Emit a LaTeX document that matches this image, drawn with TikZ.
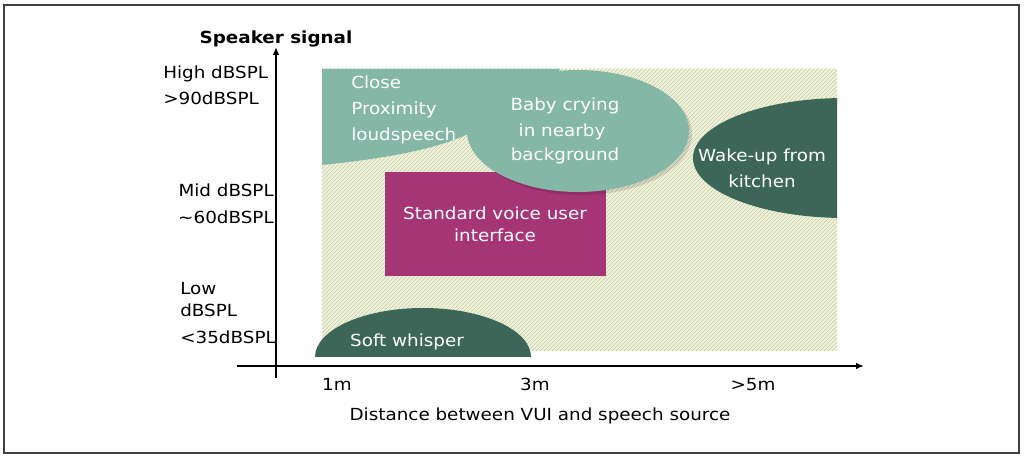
\documentclass[tikz,border=0pt]{standalone}
\usepackage{fontspec}
\setmainfont{DejaVu Sans}[FakeStretch=1.1]
\usetikzlibrary{patterns,arrows.meta}

\definecolor{hatchbg}{HTML}{F1F3E2}
\definecolor{hatchln}{HTML}{C3CE95}
\definecolor{lightteal}{HTML}{84B7A6}
\definecolor{darkteal}{HTML}{3C6657}
\definecolor{vuimagenta}{HTML}{A63576}

\tikzset{
    axistext/.style={inner sep=0pt, font=\fontsize{12.5}{15}\selectfont},
    whitetext/.style={inner sep=0pt, text=white, font=\fontsize{12.5}{15}\selectfont},
    axisline/.style={line width=1.4pt, -{Latex[length=6pt,width=5pt]}}
}

\begin{document}
\begin{tikzpicture}[x=0.75pt, y=-0.75pt]
    \useasboundingbox (0,0) rectangle (1024,459);
    \draw [line width=1.2pt, black!75] (4,5) rectangle (1019,453);
    % hatched field
    \fill [hatchbg] (322,69) rectangle (837,351);
    \fill [pattern=north east lines, pattern color=hatchln] (322,69) rectangle (837,351);
    % regions
    \fill [lightteal] (322,69) -- (560,69) -- (520,125) -- (480,128) .. controls (445,148) and (390,158) .. (322,165) -- cycle;
    \begin{scope}
        \clip (600,60) rectangle (837,240);
        \fill [darkteal] (845,158) ellipse [x radius=152, y radius=60];
    \end{scope}
    \fill [vuimagenta] (385,172) rectangle (606,276);
    \fill [black, opacity=0.12] (581,134) ellipse [x radius=111, y radius=61];
    \fill [lightteal] (578,131) ellipse [x radius=111, y radius=61];
    \fill [darkteal] (315,357) arc [start angle=180, end angle=360, x radius=108, y radius=49] -- cycle;
    % axes
    \coordinate (ybot) at (276,378);
    \coordinate (ytop) at (276,47);
    \coordinate (xleft) at (237,366);
    \coordinate (xright) at (864,366);
    \draw [axisline] (ybot) -- (ytop);
    \draw [axisline] (xleft) -- (xright);
    \node [axistext, anchor=base, font=\fontsize{12.5}{15}\selectfont\bfseries] (ytitle) at (276,44) {Speaker signal};
    \node [axistext, anchor=base west] (high1) at (163,79) {High dBSPL};
    \node [axistext, anchor=base west] (high2) at (163,105) {>90dBSPL};
    \node [axistext, anchor=base east] (mid1) at (274,197) {Mid dBSPL};
    \node [axistext, anchor=base east] (mid2) at (274,224) {\char`\~60dBSPL};
    \node [axistext, anchor=base west] (low1) at (180,295) {Low};
    \node [axistext, anchor=base west] (low2) at (180,317) {dBSPL};
    \node [axistext, anchor=base west] (low3) at (180,344) {<35dBSPL};
    \node [axistext, anchor=base] (d1) at (337,390) {1m};
    \node [axistext, anchor=base] (d3) at (535,390) {3m};
    \node [axistext, anchor=base] (d5) at (753,390) {>5m};
    \node [axistext, anchor=base] (xtitle) at (540,420) {Distance between VUI and speech source};
    % region texts
    \node [whitetext, anchor=base west] (close1) at (351,89) {Close};
    \node [whitetext, anchor=base west] (close2) at (351,115) {Proximity};
    \node [whitetext, anchor=base west] (close3) at (351,141) {loudspeech};
    \node [whitetext, anchor=base] (baby1) at (565,111) {Baby crying};
    \node [whitetext, anchor=base] (baby2) at (562,137) {in nearby};
    \node [whitetext, anchor=base] (baby3) at (565,161) {background};
    \node [whitetext, anchor=base] (wake1) at (762,162) {Wake-up from};
    \node [whitetext, anchor=base] (wake2) at (762,188) {kitchen};
    \node [whitetext, anchor=base] (vui1) at (495,220) {Standard voice user};
    \node [whitetext, anchor=base] (vui2) at (495,242) {interface};
    \node [whitetext, anchor=base] (soft) at (407,347) {Soft whisper};
\end{tikzpicture}
\end{document}
